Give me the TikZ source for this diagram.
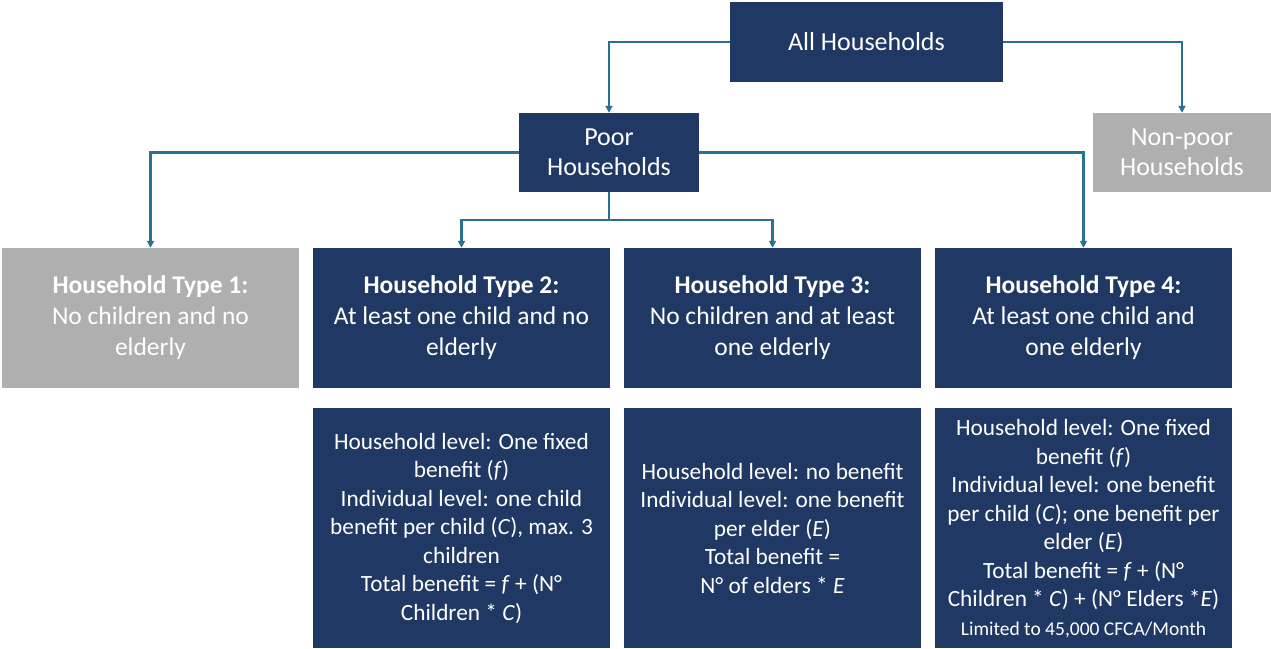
\documentclass[tikz,border=0pt]{standalone}
\usepackage{fontspec}
\setmainfont{Carlito}
\usepackage{xcolor}
\usetikzlibrary{positioning,arrows.meta}

\definecolor{navyfill}{HTML}{203864}
\definecolor{greyfill}{HTML}{AFAFAF}
\definecolor{linkblue}{HTML}{2A7090}

\begin{document}
\begin{tikzpicture}[x=1pt,y=-1pt,
    topbox/.style={rectangle, fill=navyfill, text=white, align=center, inner sep=0pt, font=\fontsize{26}{30}\selectfont},
    offbox/.style={topbox, fill=greyfill},
    typebox/.style={rectangle, fill=navyfill, text=white, align=center, inner sep=0pt, minimum width=297pt, minimum height=140pt, font=\fontsize{25.5}{31}\selectfont},
    benefitbox/.style={rectangle, fill=navyfill, text=white, align=center, inner sep=0pt, minimum width=297pt, minimum height=240pt, font=\fontsize{23.3}{28.5}\selectfont},
    arrow/.style={-{Triangle[length=7pt,width=7pt]}, linkblue, line width=2.4pt}
]
\useasboundingbox (0,0) rectangle (1271,648);

% Top levels
\node[topbox, minimum width=273pt, minimum height=80pt] (all) at (866.5,42) {All Households};
\node[topbox, minimum width=180pt, minimum height=79pt] (poor) at (609,152.5) {Poor\\Households};
\node[offbox, minimum width=178pt, minimum height=79pt] (nonpoor) at (1182,152.5) {Non-poor\\Households};

% Household types
\node[typebox, fill=greyfill] (type1) at (150.5,318) {\textbf{Household Type 1:}\\No children and no\\elderly};
\node[typebox] (type2) at (461.5,318) {\textbf{Household Type 2:}\\At least one child and no\\elderly};
\node[typebox] (type3) at (772.5,318) {\textbf{Household Type 3:}\\No children and at least\\one elderly};
\node[typebox] (type4) at (1083.5,318) {\textbf{Household Type 4:}\\At least one child and\\one elderly};

% Benefits
\node[benefitbox, below=20pt of type2] (ben2) {Household level: One fixed\\benefit (\textit{f})\\Individual level: one child\\benefit per child (\textit{C}), max. 3\\children\\Total benefit = \textit{f} + (N°\\Children * \textit{C})};
\node[benefitbox, below=20pt of type3] (ben3) {Household level: no benefit\\Individual level: one benefit\\per elder (\textit{E})\\Total benefit =\\N° of elders * \textit{E}};
\node[benefitbox, below=20pt of type4] (ben4) {Household level: One fixed\\benefit (\textit{f})\\Individual level: one benefit\\per child (\textit{C}); one benefit per\\elder (\textit{E})\\Total benefit = \textit{f} + (N°\\Children * \textit{C}) + (N° Elders *\textit{E})\\{\fontsize{19.5}{24}\selectfont Limited to 45,000 CFCA/Month}};

% Arrows
\draw[arrow] (all.west) -| (poor.north);
\draw[arrow] (all.east) -| (nonpoor.north);
\draw[arrow] (poor.west) -| (type1.north);
\draw[arrow] (poor.east) -| (type4.north);
\draw[arrow] (poor.south) -- ++(0,28) -| (type2.north);
\draw[arrow] (poor.south) -- ++(0,28) -| (type3.north);

\end{tikzpicture}
\end{document}
